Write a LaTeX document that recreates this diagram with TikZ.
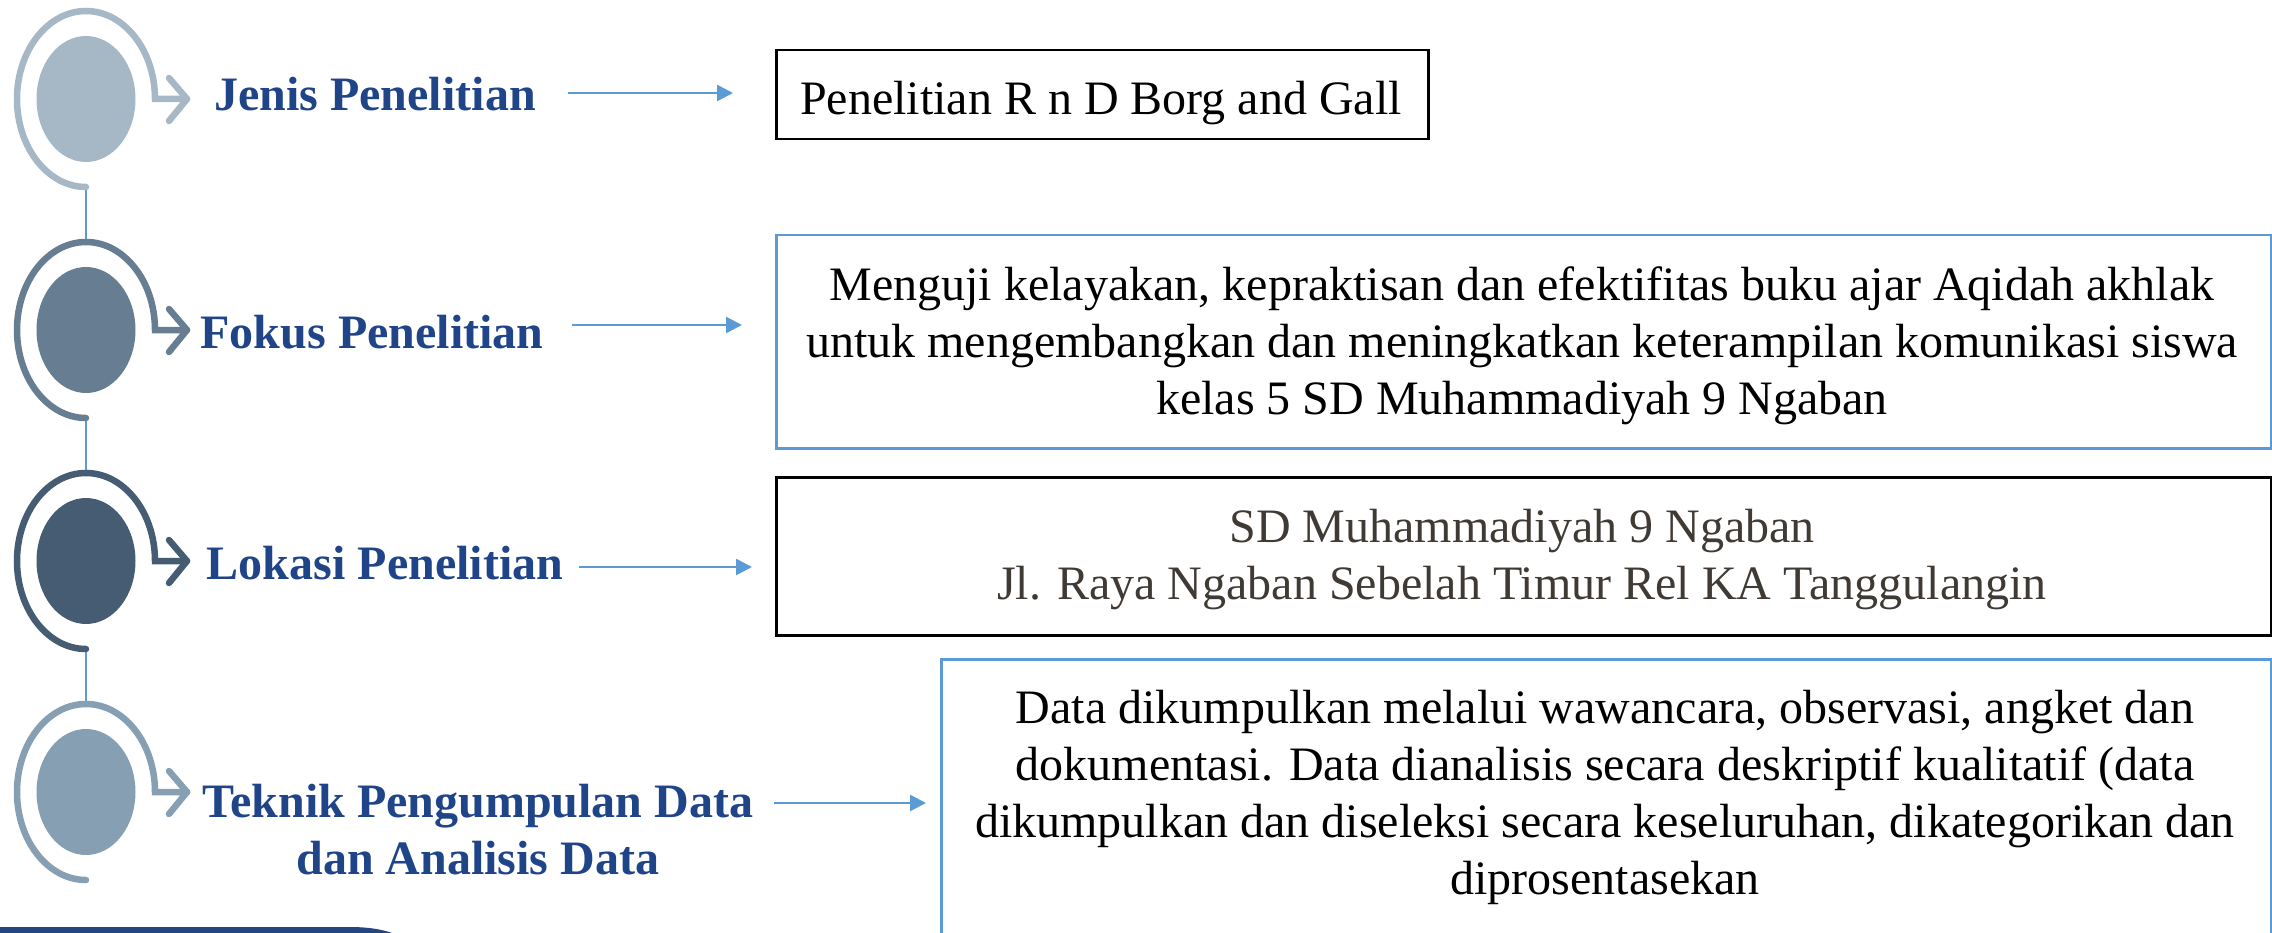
\documentclass[tikz,border=0pt]{standalone}
\usepackage{fontspec}
\setmainfont{Liberation Serif}
\usetikzlibrary{arrows.meta}
\definecolor{ringA}{RGB}{166,183,197}
\definecolor{ringB}{RGB}{103,125,145}
\definecolor{ringC}{RGB}{70,92,115}
\definecolor{ringD}{RGB}{135,159,178}
\definecolor{lblue}{RGB}{91,155,213}
\definecolor{navy}{RGB}{31,69,136}
\definecolor{band}{RGB}{36,70,128}
\definecolor{addr}{RGB}{64,58,53}
\begin{document}
\begin{tikzpicture}[x=1pt,y=1pt,
 ringline/.style={line width=6.5pt, line cap=round},
 lbl/.style={anchor=base, inner sep=0pt, font=\fontsize{48}{57}\selectfont\bfseries, text=navy},
 body/.style={anchor=base, inner sep=0pt, font=\fontsize{48}{57}\selectfont},
 conn/.style={draw=lblue, line width=2pt},
 arr/.style={draw=lblue, line width=2.6pt, -{Triangle[length=16pt,width=16pt]}},
 boxk/.style={draw=black, line width=2.5pt, inner sep=0pt, anchor=north west},
 boxb/.style={draw=lblue, line width=2.5pt, inner sep=0pt, anchor=north west}]
\useasboundingbox (0,0) rectangle (2272,-933);

% ring anchor coordinates
\foreach \cy/\n in {99/1, 330/2, 561/3, 792/4} {
  \coordinate (top\n) at (86,-\cy+88);
  \coordinate (bot\n) at (86,-\cy-88);
}
% connectors between rings
\draw[conn] (bot1) -- (top2);
\draw[conn] (bot2) -- (top3);
\draw[conn] (bot3) -- (top4);

% rings
\foreach \cy/\col in {99/ringA, 330/ringB, 561/ringC, 792/ringD} {
  \fill[\col] (86,-\cy) ellipse [x radius=49.5, y radius=63];
  \draw[ringline,\col] (86,-\cy-88) arc[start angle=270, end angle=0, x radius=69, y radius=88] -- (187,-\cy);
  \draw[ringline,\col,line join=round] (169,-\cy+21) -- (187,-\cy) -- (169,-\cy-22);
}

% labels
\node[lbl] (l1) at (375,-111) {Jenis Penelitian};
\node[lbl] (l2) at (372,-348) {Fokus Penelitian};
\node[lbl] (l3) at (385,-579) {Lokasi Penelitian};
\node[lbl] (l4) at (478,-817) {\begin{tabular}[t]{@{}c@{}}Teknik Pengumpulan Data\\dan Analisis Data\end{tabular}};

% boxes
\node[boxk, minimum width=652pt, minimum height=89pt] (b1) at (775,-49) {};
\node[boxb, minimum width=1495pt, minimum height=213pt] (b2) at (775,-234) {};
\node[boxk, minimum width=1495pt, minimum height=158pt] (b3) at (775,-476) {};
\node[boxb, minimum width=1330pt, minimum height=320pt] (b4) at (940,-658) {};

% box texts
\node[body] (t1) at (1101,-115) {Penelitian R n D Borg and Gall};
\node[body] (t2) at (1522,-300) {\begin{tabular}[t]{@{}c@{}}Menguji kelayakan, kepraktisan dan efektifitas buku ajar Aqidah akhlak\\untuk mengembangkan dan meningkatkan keterampilan komunikasi siswa\\kelas 5 SD Muhammadiyah 9 Ngaban\end{tabular}};
\node[body, text=addr] (t3) at (1522,-542) {\begin{tabular}[t]{@{}c@{}}SD Muhammadiyah 9 Ngaban\\Jl. Raya Ngaban Sebelah Timur Rel KA Tanggulangin\end{tabular}};
\node[body] (t4) at (1605,-723) {\begin{tabular}[t]{@{}c@{}}Data dikumpulkan melalui wawancara, observasi, angket dan\\dokumentasi. Data dianalisis secara deskriptif kualitatif (data\\dikumpulkan dan diseleksi secara keseluruhan, dikategorikan dan\\diprosentasekan\end{tabular}};

% arrows
\coordinate (a1s) at (568,-93);  \coordinate (a1e) at (733,-93);
\coordinate (a2s) at (572,-325); \coordinate (a2e) at (742,-325);
\coordinate (a3s) at (579,-567); \coordinate (a3e) at (752,-567);
\coordinate (a4s) at (774,-803); \coordinate (a4e) at (926,-803);
\draw[arr] (a1s) -- (a1e);
\draw[arr] (a2s) -- (a2e);
\draw[arr] (a3s) -- (a3e);
\draw[arr] (a4s) -- (a4e);

% bottom band
\fill[band] (0,-933) -- (0,-927) -- (350,-927) .. controls (370,-927) and (384,-930) .. (392,-933) -- cycle;
\end{tikzpicture}
\end{document}
